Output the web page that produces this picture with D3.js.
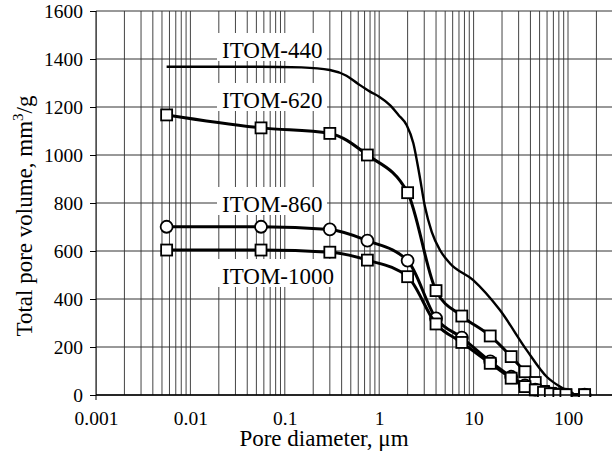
<!DOCTYPE html>
<html>
<head>
<meta charset="UTF-8">
<title></title>
<style>
  body { margin: 0; background: #fff; }
</style>
</head>
<body>
<div id="chart"></div>
<script src="https://cdn.jsdelivr.net/npm/d3@7/dist/d3.min.js"></script>
<script>
// pore diameter, um (measurement points)
var diam = [0.0056, 0.056, 0.3, 0.75, 2, 4, 7.5, 15, 25, 35, 45, 55, 65, 80, 95, 150];
var itom620 = [1167, 1113, 1090, 1000, 843, 435, 329, 246, 160, 97, 52, 15, 7, 3, 1, 1];
var itom860 = [701, 701, 690, 643, 560, 319, 239, 140, 76, 40, 22, 12, 6, 3, 1, 1];
var itom1000 = [604, 604, 595, 562, 493, 296, 219, 132, 70, 35, 21, 11, 5, 2, 1, 1];
// ITOM-440 is a smooth curve without markers
var diam440 = [0.0056, 0.056, 0.15, 0.3, 0.45, 0.6, 0.8, 1.0, 1.3, 1.6, 1.95, 2.3, 2.65, 3.05, 3.6, 4.4, 5.6, 9.9, 19, 36.5, 59.5, 82, 114];
var itom440 = [1368, 1368, 1365, 1354, 1330, 1296, 1264, 1243, 1208, 1167, 1125, 1049, 924, 785, 680, 604, 549, 479, 354, 187, 76, 35, 7];
var yTicks = [0, 200, 400, 600, 800, 1000, 1200, 1400, 1600];
var xTicks = [0.001, 0.01, 0.1, 1, 10, 100];
var xTickLabels = ["0.001", "0.01", "0.1", "1", "10", "100"];
var labels = [
  {name: "ITOM-440", base: 58},
  {name: "ITOM-620", base: 108},
  {name: "ITOM-860", base: 212},
  {name: "ITOM-1000", base: 284}
];

var W = 612, H = 463;
var pLeft = 96, pTop = 11, pBottom = 395, pRight = 612;
var decade = 94.4;
var serif = "'Liberation Serif', 'Times New Roman', serif";

var svg = d3.select("#chart").append("svg")
    .attr("width", W).attr("height", H)
    .attr("font-family", serif);

var x = d3.scaleLog().domain([0.001, 1000]).range([pLeft, pLeft + 6 * decade]);
var y = d3.scaleLinear().domain([0, 1600]).range([pBottom, pTop]);

svg.append("clipPath").attr("id", "plot")
  .append("rect").attr("x", pLeft).attr("y", pTop - 2)
  .attr("width", pRight - pLeft).attr("height", pBottom - pTop + 4);

var g = svg.append("g").attr("clip-path", "url(#plot)");

// vertical log grid
var vlines = [];
for (var p = -3; p <= 2; p++) {
  for (var k = 1; k <= 9; k++) vlines.push(k * Math.pow(10, p));
}
g.selectAll(".vg").data(vlines).join("line")
  .attr("x1", d => x(d)).attr("x2", d => x(d))
  .attr("y1", pTop).attr("y2", pBottom)
  .attr("stroke", "#444").attr("stroke-width", 1);

// horizontal grid
g.selectAll(".hg").data(yTicks).join("line")
  .attr("x1", pLeft).attr("x2", pRight)
  .attr("y1", d => y(d)).attr("y2", d => y(d))
  .attr("stroke", "#333").attr("stroke-width", 1);

// label backgrounds
g.selectAll(".lb").data(labels).join("rect")
  .attr("x", 217).attr("y", d => d.base - 25)
  .attr("width", d => d.name.length > 8 ? 124 : 110).attr("height", 28)
  .attr("fill", "#fff");

// axes
svg.append("line").attr("x1", pLeft).attr("x2", pLeft).attr("y1", pTop).attr("y2", pBottom + 5)
  .attr("stroke", "#000").attr("stroke-width", 1);
svg.append("line").attr("x1", pLeft).attr("x2", pRight).attr("y1", pBottom).attr("y2", pBottom)
  .attr("stroke", "#000").attr("stroke-width", 1.6);

var yAxis = svg.append("g").attr("transform", "translate(" + pLeft + ",0)")
  .call(d3.axisLeft(y).tickValues(yTicks).tickSize(6).tickPadding(7).tickFormat(d3.format("d")));
yAxis.attr("font-family", serif).attr("font-size", 19.5);
yAxis.select(".domain").remove();
yAxis.selectAll("line").attr("stroke", "#000");

var xAxis = svg.append("g").attr("transform", "translate(0," + pBottom + ")")
  .call(d3.axisBottom(x).tickValues(xTicks).tickSize(0).tickPadding(16)
    .tickFormat((d, i) => xTickLabels[i]));
xAxis.attr("font-family", serif).attr("font-size", 19.5);
xAxis.select(".domain").remove();

// series
var curve = d3.line().curve(d3.curveMonotoneX)
  .x(d => x(d[0])).y(d => y(d[1]));

var s440 = d3.zip(diam440, itom440);
var s620 = d3.zip(diam, itom620);
var s860 = d3.zip(diam, itom860);
var s1000 = d3.zip(diam, itom1000);

g.append("path").datum(s440).attr("d", curve)
  .attr("fill", "none").attr("stroke", "#000").attr("stroke-width", 2.4);

function squares(data) {
  g.append("path").datum(data).attr("d", curve)
    .attr("fill", "none").attr("stroke", "#000").attr("stroke-width", 3);
  g.selectAll(null).data(data).join("rect")
    .attr("x", d => x(d[0]) - 5.5).attr("y", d => y(d[1]) - 5.5)
    .attr("width", 11).attr("height", 11)
    .attr("fill", "#fff").attr("stroke", "#000").attr("stroke-width", 1.8);
}
function circles(data) {
  g.append("path").datum(data).attr("d", curve)
    .attr("fill", "none").attr("stroke", "#000").attr("stroke-width", 3);
  g.selectAll(null).data(data).join("circle")
    .attr("cx", d => x(d[0])).attr("cy", d => y(d[1])).attr("r", 6)
    .attr("fill", "#fff").attr("stroke", "#000").attr("stroke-width", 1.8);
}
squares(s620);
circles(s860);
squares(s1000);

// series labels
svg.selectAll(".lab").data(labels).join("text")
  .attr("x", 222).attr("y", d => d.base)
  .attr("font-size", 23).text(d => d.name);

// axis titles
svg.append("text").attr("x", 324).attr("y", 446).attr("text-anchor", "middle")
  .attr("font-size", 23).text("Pore diameter, \u03bcm");

var yt = svg.append("text").attr("transform", "translate(32,216) rotate(-90)")
  .attr("text-anchor", "middle").attr("font-size", 23);
yt.append("tspan").text("Total pore volume, mm");
yt.append("tspan").attr("dy", -9).attr("font-size", 15).text("3");
yt.append("tspan").attr("dy", 9).text("/g");
</script>
</body>
</html>
